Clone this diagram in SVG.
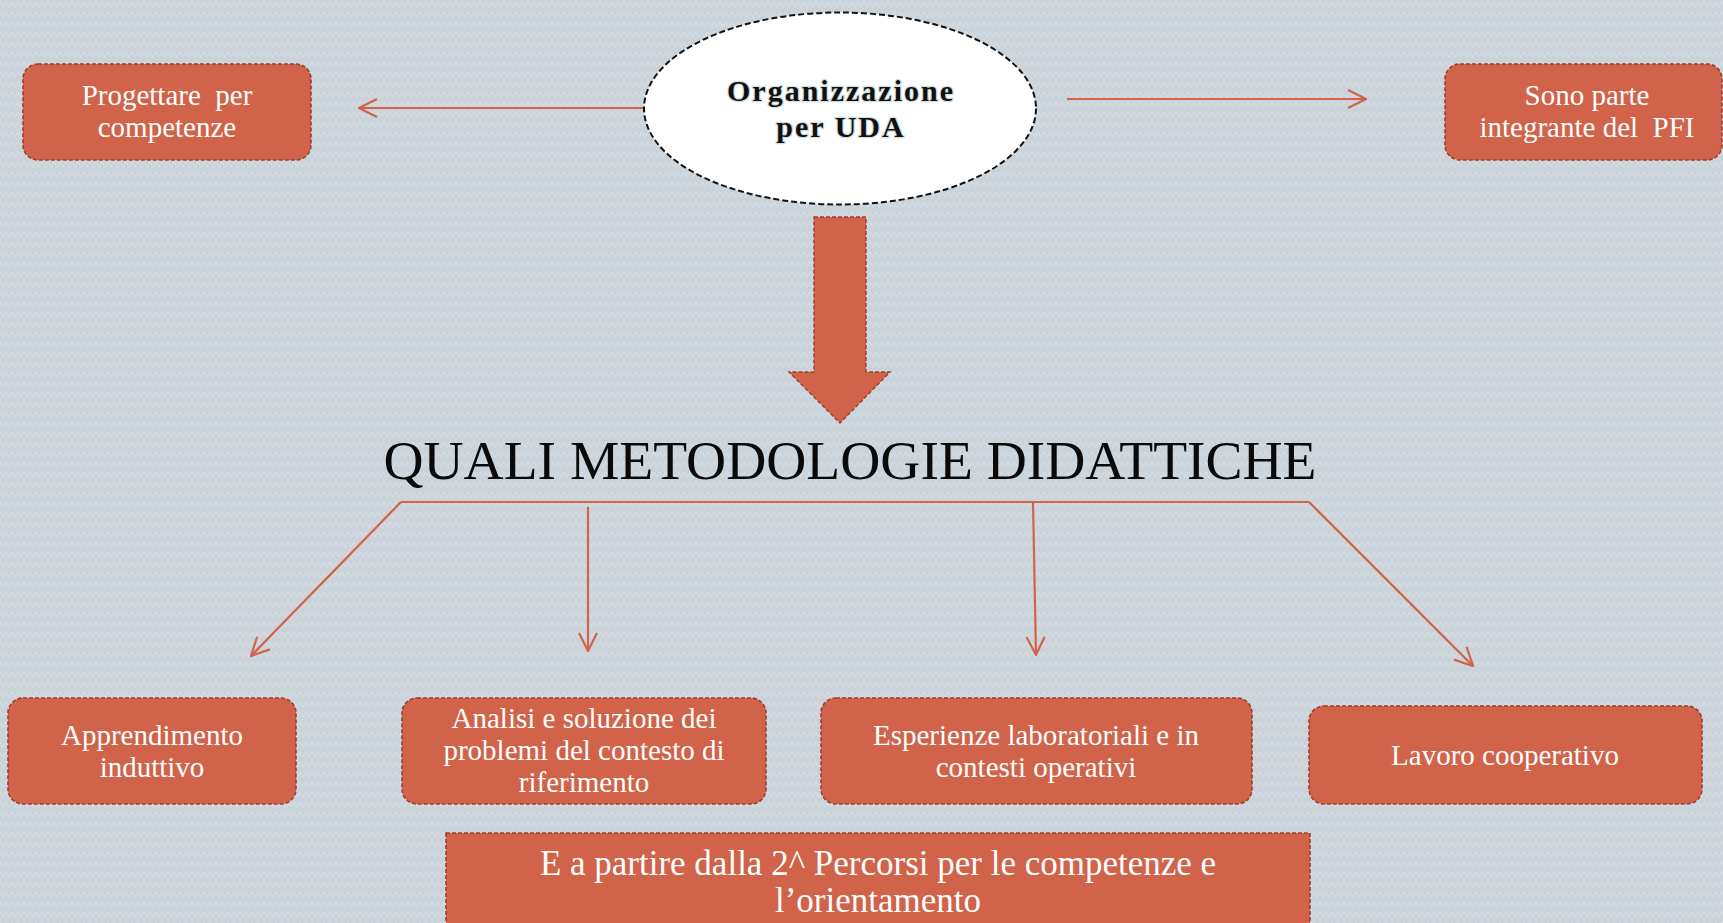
<svg xmlns="http://www.w3.org/2000/svg" width="1723" height="923" viewBox="0 0 1723 923">
  <defs>
    <pattern id="bgpat" width="12" height="10" patternUnits="userSpaceOnUse">
      <rect width="12" height="10" fill="#cbd3da"/>
      <path d="M0,2 L3,7 L6,2 L9,7 L12,2" fill="none" stroke="#d5dce2" stroke-width="1.2"/>
    </pattern>
    <marker id="chev" viewBox="0 0 20 20" refX="19" refY="10" markerWidth="20" markerHeight="20" markerUnits="userSpaceOnUse" orient="auto">
      <path d="M1,1 L19,10 L1,19" fill="none" stroke="#d0634a" stroke-width="2.2"/>
    </marker>
    <style>
      .box { fill:#d0634a; stroke:#9e3f2d; stroke-width:1.6; stroke-dasharray:4 2; }
      .bt { font-family:"Liberation Serif","Times New Roman",serif; font-size:29px; fill:#ffffff; text-anchor:middle; }
      .conn { fill:none; stroke:#d0634a; stroke-width:2.2; }
      .org { font-family:"Liberation Serif","Times New Roman",serif; font-size:30px; font-weight:bold; letter-spacing:2px; text-anchor:middle; fill:#111111; stroke:#d3dfdf; stroke-width:2.5; paint-order:stroke; }
      .title { font-family:"Liberation Serif","Times New Roman",serif; font-size:55.5px; text-anchor:middle; fill:#0a0a0a; }
    </style>
  </defs>

  <rect x="0" y="0" width="1723" height="923" fill="url(#bgpat)"/>

  <g id="connectors">
    <path class="conn" d="M644,108 L359,108" marker-end="url(#chev)"/>
    <path class="conn" d="M1067,99 L1366,99" marker-end="url(#chev)"/>
    <path class="conn" d="M401,502 L1309,502"/>
    <path class="conn" d="M401,502 L251,656" marker-end="url(#chev)"/>
    <path class="conn" d="M588,507 L588,651" marker-end="url(#chev)"/>
    <path class="conn" d="M1033,502 L1036,655" marker-end="url(#chev)"/>
    <path class="conn" d="M1309,502 L1473,666" marker-end="url(#chev)"/>
    <polygon id="big-arrow" points="814,217 866,217 866,372 890,372 840,423 789,372 814,372" fill="#d0634a" stroke="#9e3f2d" stroke-width="1.4" stroke-dasharray="4 2"/>
  </g>

  <g id="organizzazione">
    <ellipse cx="840" cy="108.5" rx="196" ry="96" fill="#ffffff" stroke="#111111" stroke-width="2" stroke-dasharray="6 3"/>
    <text class="org" x="841" y="101">Organizzazione</text>
    <text class="org" x="841" y="137">per UDA</text>
  </g>

  <g id="progettare">
    <rect class="box" x="23" y="64" width="288" height="96" rx="15"/>
    <text class="bt" x="167" y="105" xml:space="preserve">Progettare  per</text>
    <text class="bt" x="167" y="137">competenze</text>
  </g>

  <g id="pfi">
    <rect class="box" x="1445" y="64" width="277" height="96" rx="15"/>
    <text class="bt" x="1587" y="105">Sono parte</text>
    <text class="bt" x="1587" y="137" xml:space="preserve">integrante del  PFI</text>
  </g>

  <g id="titolo">
    <text class="title" x="850" y="479">QUALI METODOLOGIE DIDATTICHE</text>
  </g>

  <g id="apprendimento">
    <rect class="box" x="8" y="698" width="288" height="106" rx="15"/>
    <text class="bt" x="152" y="745">Apprendimento</text>
    <text class="bt" x="152" y="777">induttivo</text>
  </g>

  <g id="analisi">
    <rect class="box" x="402" y="698" width="364" height="106" rx="15"/>
    <text class="bt" x="584" y="728">Analisi e soluzione dei</text>
    <text class="bt" x="584" y="760">problemi del contesto di</text>
    <text class="bt" x="584" y="792">riferimento</text>
  </g>

  <g id="esperienze">
    <rect class="box" x="821" y="698" width="431" height="106" rx="15"/>
    <text class="bt" x="1036" y="745">Esperienze laboratoriali e in</text>
    <text class="bt" x="1036" y="777">contesti operativi</text>
  </g>

  <g id="lavoro">
    <rect class="box" x="1309" y="706" width="393" height="98" rx="15"/>
    <text class="bt" x="1505" y="765">Lavoro cooperativo</text>
  </g>

  <g id="percorsi">
    <rect class="box" x="446" y="833" width="864" height="110" rx="0"/>
    <text class="bt" x="878" y="875" style="font-size:35px">E a partire dalla 2^ Percorsi per le competenze e</text>
    <text class="bt" x="878" y="912" style="font-size:35px">l’orientamento</text>
  </g>
</svg>
